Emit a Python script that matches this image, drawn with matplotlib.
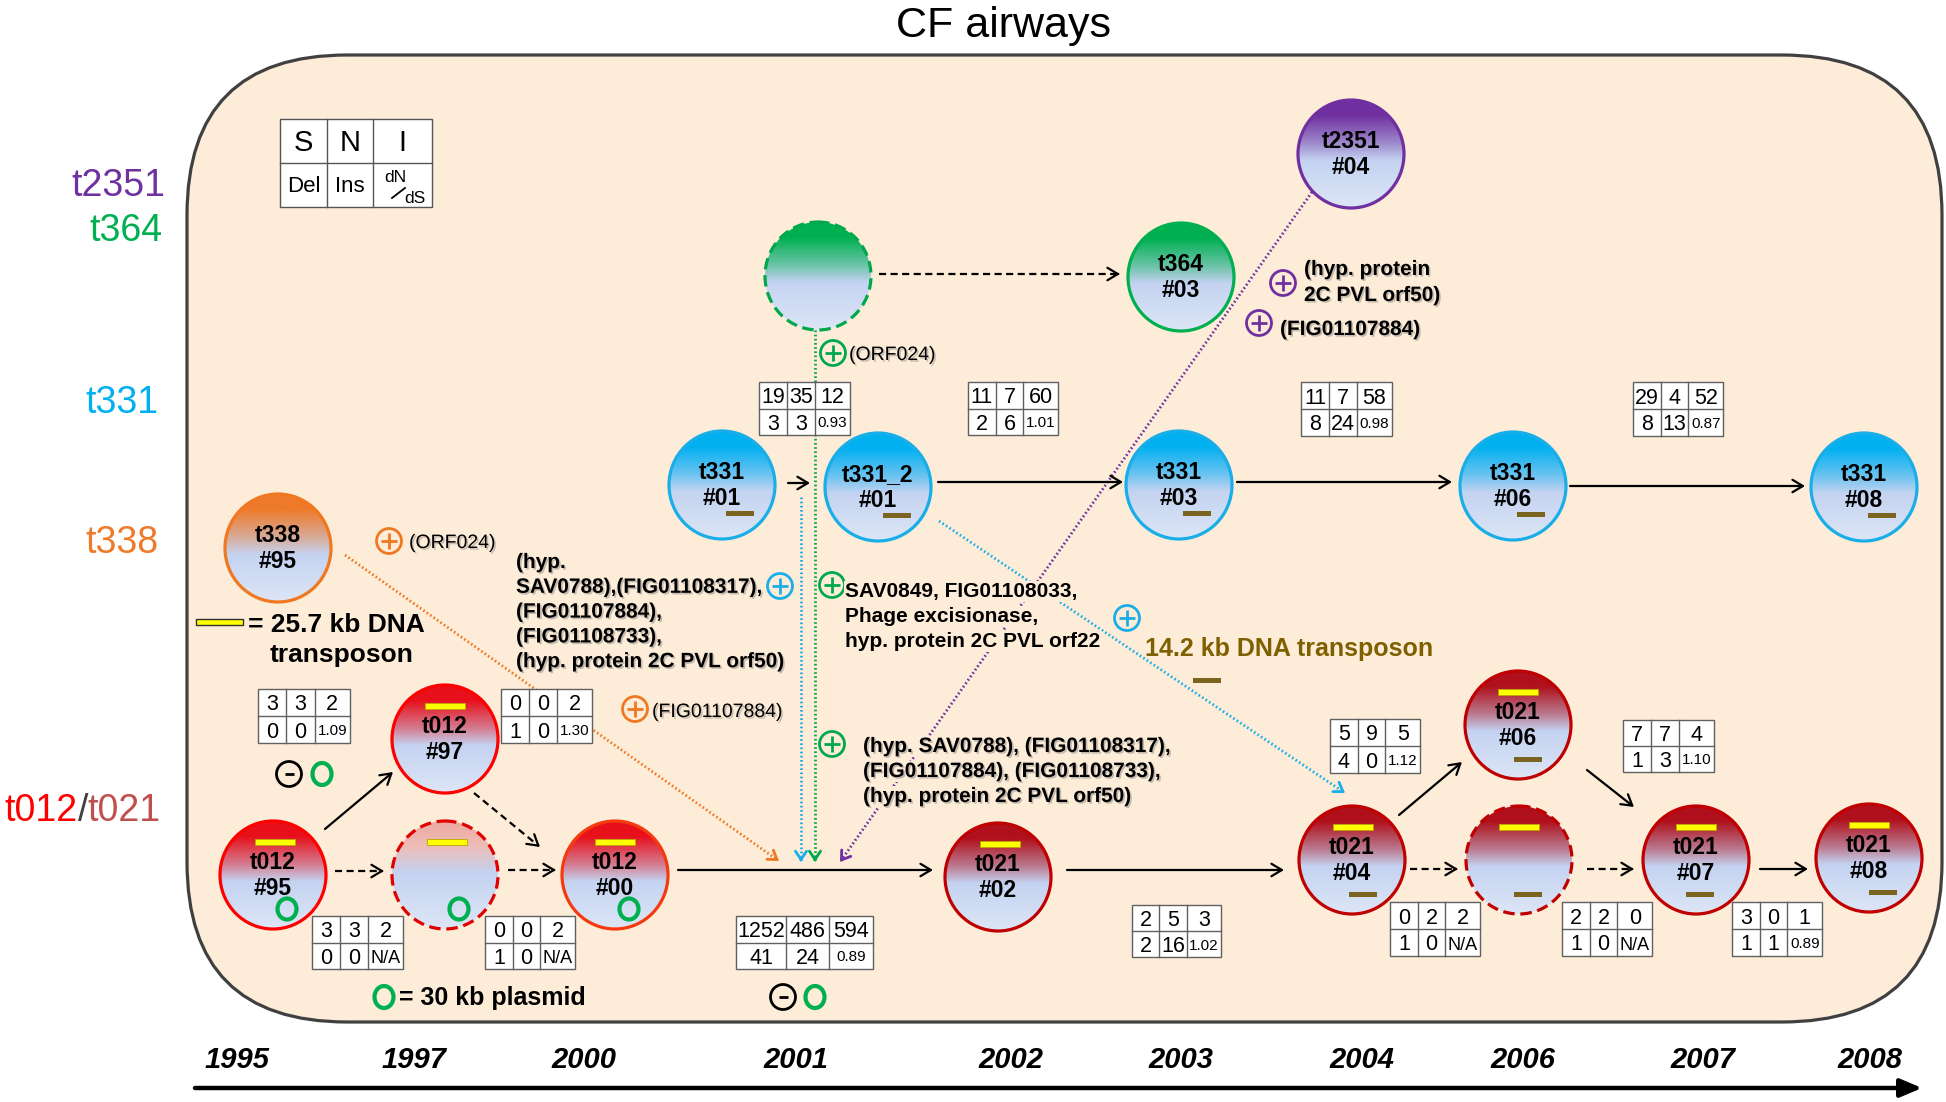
import numpy as np
import matplotlib
matplotlib.use("Agg")
import matplotlib.pyplot as plt
from matplotlib.patches import Ellipse, Circle, FancyBboxPatch, Rectangle
import matplotlib.patheffects as pe
from matplotlib.colors import to_rgb
from matplotlib import font_manager

plt.rcParams['font.family'] = ['Liberation Sans', 'DejaVu Sans']
_names = {f.name for f in font_manager.fontManager.ttflist}
NARROW = 'Liberation Sans Narrow' if 'Liberation Sans Narrow' in _names else 'Liberation Sans'
NUM_SIZE = 16.5 if NARROW != 'Liberation Sans' else 15.5

# ---------------- data ----------------
title = "CF airways"
strain_labels = ["t2351", "t364", "t331", "t338"]
years = ["1995", "1997", "2000", "2001", "2002", "2003", "2004", "2006", "2007", "2008"]

node_line1 = ["t2351", "t364", "", "t331", "t331_2", "t331", "t331", "t331", "t338",
              "t012", "t012", "", "t012", "t021", "t021", "t021", "", "t021", "t021"]
node_line2 = ["#04", "#03", "", "#01", "#01", "#03", "#06", "#08", "#95",
              "#97", "#95", "", "#00", "#02", "#04", "#06", "", "#07", "#08"]

table_top = [[19, 35, 12], [11, 7, 60], [11, 7, 58], [29, 4, 52], [3, 3, 2], [0, 0, 2],
             [3, 3, 2], [0, 0, 2], [1252, 486, 594], [2, 5, 3], [5, 9, 5], [0, 2, 2],
             [2, 2, 0], [3, 0, 1], [7, 7, 4]]
table_bottom = [[3, 3, "0.93"], [2, 6, "1.01"], [8, 24, "0.98"], [8, 13, "0.87"],
                [0, 0, "1.09"], [1, 0, "1.30"], [0, 0, "N/A"], [1, 0, "N/A"],
                [41, 24, "0.89"], [2, 16, "1.02"], [4, 0, "1.12"], [1, 0, "N/A"],
                [1, 0, "N/A"], [1, 1, "0.89"], [1, 3, "1.10"]]

legend_top = ["S", "N", "I"]
legend_bottom = ["Del", "Ins"]

ann_blue = ["(hyp.", "SAV0788),(FIG01108317),", "(FIG01107884),", "(FIG01108733),",
            "(hyp. protein 2C PVL orf50)"]
ann_green1 = ["SAV0849, FIG01108033,", "Phage excisionase,", "hyp. protein 2C PVL orf22"]
ann_green2 = ["(hyp. SAV0788), (FIG01108317),", "(FIG01107884), (FIG01108733),",
              "(hyp. protein 2C PVL orf50)"]
ann_purple1 = ["(hyp. protein", "2C PVL orf50)"]
ann_purple2 = "(FIG01107884)"
ann_orf = "(ORF024)"
ann_orange2 = "(FIG01107884)"
legend_transposon = ["= 25.7 kb DNA", "transposon"]
legend_plasmid = "= 30 kb plasmid"
legend_transposon2 = "14.2 kb DNA transposon"

# ---------------- styles ----------------
BG = '#FDECD8'
PURPLE = '#7030A0'
GREEN = '#00B050'
CYAN = '#00B0F0'
ORANGE = '#EE7A2A'
RED = '#FF0000'
DRED = '#C00000'
OLIVE = '#7F6000'
BROWN = '#7A6420'

fig = plt.figure(figsize=(19.46, 11.02), dpi=100)
ax = fig.add_axes([0, 0, 1, 1])
ax.set_axis_off()

ax.add_patch(FancyBboxPatch((187, 55), 1942 - 187, 1022 - 55,
                            boxstyle='round,pad=0,rounding_size=160',
                            fc=BG, ec='#404040', lw=2.3, zorder=0))

ax.text(1003, 37, title, fontsize=31, ha='center', va='baseline')

shadow = [pe.withSimplePatchShadow(offset=(1.2, -1.2), shadow_rgbFace='#808080', alpha=0.45)]


def txt(x, y, s, size, weight='normal', color='k', ha='left', style='normal',
        shad=False, bg=False, z=6, family=None):
    kw = {}
    if shad:
        kw['path_effects'] = shadow
    if bg:
        kw['bbox'] = dict(fc=BG, ec='none', pad=1.0)
    if family:
        kw['family'] = family
    return ax.text(x, y, s, fontsize=size, fontweight=weight, color=color, ha=ha,
                   va='baseline', style=style, zorder=z, **kw)


def lines(x, y0, pitch, texts, size, **kw):
    for i, s in enumerate(texts):
        txt(x, y0 + i * pitch, s, size, **kw)


lab_base = [196, 241, 413, 553]
lab_col = [PURPLE, GREEN, CYAN, ORANGE]
lab_right = [165, 163, 158, 159]
for s, b, c, r in zip(strain_labels, lab_base, lab_col, lab_right):
    txt(r, b, s, 27, color=c, ha='right')
renderer = fig.canvas.get_renderer()
ax.set_xlim(0, 1946)
ax.set_ylim(1102, 0)
t_a = txt(161, 821, "t021", 27, color='#C0504D', ha='right')
x_a = t_a.get_window_extent(renderer=renderer).x0
t_b = txt(x_a, 821, "/", 27, color='#404040', ha='right')
x_b = t_b.get_window_extent(renderer=renderer).x0
txt(x_b, 821, "t012", 27, color=RED, ha='right')

# legend table
lx = [280, 327, 373, 432]
ly = [119, 163, 207]
ax.add_patch(Rectangle((lx[0], ly[0]), lx[3] - lx[0], ly[2] - ly[0], fc='white', ec='#555555', lw=1.0, zorder=4))
for xv in lx[1:3]:
    ax.plot([xv, xv], [ly[0], ly[2]], color='#555555', lw=1.0, zorder=4)
ax.plot([lx[0], lx[3]], [ly[1], ly[1]], color='#555555', lw=1.0, zorder=4)
for i, s in enumerate(legend_top):
    txt((lx[i] + lx[i + 1]) / 2, 151, s, 21, ha='center')
for i, s in enumerate(legend_bottom):
    txt((lx[i] + lx[i + 1]) / 2, 192, s, 16, ha='center')
txt(384, 182, "dN", 12.5)
ax.plot([392, 405], [198, 188], color='k', lw=1.3, zorder=6)
txt(404, 203, "dS", 12.5)


def arrow(x0, y0, x1, y1, ls='-', color='k', lw=1.6, hl=0.75, hw=0.45, z=2):
    if ls == '-':
        ax.annotate('', xy=(x1, y1), xytext=(x0, y0), zorder=z,
                    arrowprops=dict(arrowstyle=f'->,head_length={hl},head_width={hw}',
                                    color=color, lw=lw, shrinkA=0, shrinkB=0))
    else:
        d = np.hypot(x1 - x0, y1 - y0)
        ux, uy = (x1 - x0) / d, (y1 - y0) / d
        ax.plot([x0, x1 - 2 * ux], [y0, y1 - 2 * uy], color=color, lw=lw, ls=ls, zorder=z)
        ax.annotate('', xy=(x1, y1), xytext=(x1 - 3 * ux, y1 - 3 * uy), zorder=z,
                    arrowprops=dict(arrowstyle=f'->,head_length={hl},head_width={hw}',
                                    color=color, lw=lw, shrinkA=0, shrinkB=0))


DASH = (0, (3.2, 2.0))
DOT = (0, (0.6, 0.9))

arrow(325, 829, 393, 772)
arrow(474, 793, 540, 847, ls=DASH)
arrow(335, 871, 384, 871, ls=DASH)
arrow(508, 870, 556, 870, ls=DASH)
arrow(678, 870, 933, 870)
arrow(1067, 870, 1284, 870)
arrow(1399, 815, 1462, 762)
arrow(1410, 869, 1458, 869, ls=DASH)
arrow(1587, 869, 1634, 869, ls=DASH)
arrow(1587, 770, 1634, 807)
arrow(1760, 869, 1808, 869)
arrow(788, 483, 810, 483)
arrow(938, 482, 1123, 482)
arrow(1237, 482, 1452, 482)
arrow(1570, 486, 1805, 486)
arrow(879, 274, 1120, 274, ls=DASH)

arrow(345, 555, 779, 861, ls=DOT, color='#F07820', lw=2.0, hl=0.6, hw=0.4, z=1)
arrow(801, 497, 801, 862, ls=DOT, color='#1AAEE8', lw=2.0, hl=0.6, hw=0.4, z=1)
arrow(815, 330, 815, 862, ls=DOT, color='#00A84C', lw=2.0, hl=0.6, hw=0.4, z=1)
arrow(939, 521, 1345, 793, ls=DOT, color='#1AAEE8', lw=2.0, hl=0.6, hw=0.4, z=1)
arrow(1312, 192, 840, 862, ls=DOT, color=PURPLE, lw=2.0, hl=0.6, hw=0.4, z=1)

ax.annotate('', xy=(1922, 1088), xytext=(195, 1088), zorder=2,
            arrowprops=dict(arrowstyle='-|>,head_length=1.3,head_width=0.55',
                            color='k', lw=3.2, shrinkA=0, shrinkB=0))
year_x = [237, 414, 584, 796, 1011, 1181, 1362, 1523, 1703, 1870]
for s, x in zip(years, year_x):
    txt(x, 1068, s, 21, weight='bold', style='italic', ha='center')

L1 = np.array(to_rgb('#C4D3F1'))
L2 = np.array(to_rgb('#DDE6F6'))


def grad(top, faded=False):
    t = np.linspace(0, 1, 256)
    c = np.array(to_rgb(top))
    if faded:
        keys = [0, 0.22, 0.48, 1.0]
        cols = [c, 0.5 * c + 0.5 * np.array(to_rgb('#F4D0CC')), L1, L2]
    else:
        keys = [0, 0.14, 0.40, 0.56, 1.0]
        cols = [c, c, 0.45 * c + 0.55 * L1, L1, L2]
    img = np.zeros((256, 1, 3))
    for ch in range(3):
        img[:, 0, ch] = np.interp(t, keys, [k[ch] for k in cols])
    return img


node_xy = [(1351, 154), (1181, 277), (818, 276), (722, 485), (878, 487), (1179, 485),
           (1513, 486), (1864, 487), (278, 548), (445, 739), (273, 875), (445, 875),
           (615, 875), (998, 877), (1352, 860), (1518, 725), (1519, 860), (1696, 860),
           (1869, 858)]
node_top = [PURPLE, GREEN, GREEN, CYAN, CYAN, CYAN, CYAN, CYAN, ORANGE,
            '#E8101A', '#E8101A', '#EBA8A0', '#E8101A', '#B0101C', '#B0101C', '#B0101C',
            '#B0101C', '#B0101C', '#B0101C']
node_edge = [PURPLE, '#00B050', '#00A84C', '#1AAEE8', '#1AAEE8', '#1AAEE8', '#1AAEE8', '#1AAEE8',
             '#F07820', RED, RED, '#E00000', '#F53A10', DRED, DRED, DRED, DRED, DRED, DRED]
node_dashed = [False, False, True, False, False, False, False, False, False,
               False, False, True, False, False, False, False, True, False, False]
node_faded = [i == 11 for i in range(19)]
node_yellow = [None] * 9 + [0, 2, 2, 0, 2, 1, 0, 0, 0, 0]
node_brown = [None, None, None, 18, 19, 18, 18, 18, None, None, None, None, None, None,
              11, 10, 9, 4, 14]
node_ring = [i in (10, 11, 12) for i in range(19)]

RX, RY = 53, 54
for i, (cx, cy) in enumerate(node_xy):
    clip = Ellipse((cx, cy), 2 * RX, 2 * RY, transform=ax.transData)
    im = ax.imshow(grad(node_top[i], node_faded[i]), extent=(cx - RX, cx + RX, cy + RY, cy - RY),
                   origin='upper', aspect='auto', interpolation='bilinear', zorder=3)
    im.set_clip_path(clip)
    ax.add_patch(Ellipse((cx, cy), 2 * RX, 2 * RY, fc='none', ec=node_edge[i], lw=2.3,
                         ls=(0, (3.6, 1.8)) if node_dashed[i] else '-', zorder=4))
    if node_line1[i]:
        txt(cx, cy - 6, node_line1[i], 16.5, weight='bold', ha='center', z=5)
        txt(cx, cy + 20, node_line2[i], 16.5, weight='bold', ha='center', z=5)
    if node_yellow[i] is not None:
        ax.add_patch(Rectangle((cx + node_yellow[i] - 20, cy - 36), 40, 6, fc='#FFFF00',
                               ec='#B8A800', lw=0.6, zorder=5))
    if node_brown[i] is not None:
        yb = cy + 26 if i < 8 else cy + 32
        ax.add_patch(Rectangle((cx + node_brown[i] - 14, yb), 28, 5, fc=BROWN, ec='none', zorder=5))
    if node_ring[i]:
        ax.add_patch(Ellipse((cx + 14, cy + 34), 19, 21, fc='none', ec=GREEN, lw=3.0, zorder=5))

table_pos = [(759, 382, 91, 53), (968, 382, 90, 53), (1301, 382, 91, 54), (1633, 382, 90, 54),
             (258, 689, 92, 54), (501, 689, 91, 54), (312, 916, 91, 53), (485, 916, 90, 53),
             (736, 916, 137, 53), (1132, 905, 89, 52), (1330, 719, 90, 54), (1390, 902, 90, 54),
             (1562, 902, 90, 54), (1732, 902, 90, 54), (1623, 720, 91, 52)]
std_frac = [28 / 91, 28 / 91, 35 / 91]
big_frac = [50 / 137, 43 / 137, 44 / 137]

for k, (x0, y0, w, h) in enumerate(table_pos):
    fr = big_frac if table_top[k][0] > 999 else std_frac
    xs = [x0]
    for f in fr:
        xs.append(xs[-1] + f * w)
    ax.add_patch(Rectangle((x0, y0), w, h, fc='white', ec='#606060', lw=1.0, zorder=4))
    for xv in xs[1:3]:
        ax.plot([xv, xv], [y0, y0 + h], color='#606060', lw=1.0, zorder=4)
    ax.plot([x0, x0 + w], [y0 + h / 2, y0 + h / 2], color='#606060', lw=1.0, zorder=4)
    for j in range(3):
        xc = (xs[j] + xs[j + 1]) / 2
        txt(xc, y0 + h / 4 + 8, str(table_top[k][j]), NUM_SIZE, ha='center', z=5, family=NARROW)
        v = table_bottom[k][j]
        if j < 2:
            txt(xc, y0 + 3 * h / 4 + 8, str(v), NUM_SIZE, ha='center', z=5, family=NARROW)
        elif v == "N/A":
            txt(xc, y0 + 3 * h / 4 + 7, v, NUM_SIZE - 2.5, ha='center', z=5, family=NARROW)
        else:
            txt(xc, y0 + 3 * h / 4 + 5.5, v, NUM_SIZE - 4.5, ha='center', z=5, family=NARROW)


def sym(x, y, color, minus=False):
    ax.add_patch(Circle((x, y), 12.5, fc='none', ec=color, lw=2.0, zorder=6))
    if minus:
        ax.plot([x - 4.5, x + 4.5], [y, y], color=color, lw=2.0, zorder=6, solid_capstyle='butt')
    else:
        ax.plot([x - 8, x + 8], [y, y], color=color, lw=2.0, zorder=6, solid_capstyle='butt')
        ax.plot([x, x], [y - 8, y + 8], color=color, lw=2.0, zorder=6, solid_capstyle='butt')


def ring(x, y):
    ax.add_patch(Ellipse((x, y), 19, 22, fc='none', ec=GREEN, lw=3.0, zorder=6))


sym(389, 541, '#F07820')
txt(409, 548, ann_orf, 14, shad=True)
sym(833, 353, '#00A84C')
txt(849, 360, ann_orf, 14, shad=True)
sym(635, 709, '#F07820')
txt(652, 717, ann_orange2, 14, shad=True)

lines(516, 568, 24.8, ann_blue, 15, weight='bold', shad=True, bg=True)
sym(780, 586, '#1AAEE8')
sym(832, 585, '#00A84C')
lines(845, 597, 25, ann_green1, 15, weight='bold', bg=True)
sym(832, 744, '#00A84C')
lines(863, 752, 25, ann_green2, 15, weight='bold', shad=True, bg=True)
sym(1127, 618, '#1AAEE8')
sym(1283, 283, PURPLE)
lines(1304, 275, 26, ann_purple1, 15, weight='bold', shad=True)
sym(1259, 323, PURPLE)
txt(1280, 335, ann_purple2, 15, weight='bold', shad=True)

txt(1145, 656, legend_transposon2, 18, weight='bold', color=OLIVE)
ax.add_patch(Rectangle((1193, 678), 28, 5, fc=BROWN, ec='none', zorder=5))

ax.add_patch(Rectangle((196, 619), 47, 6, fc='#FFFF00', ec='#303030', lw=1.0, zorder=5))
txt(248, 632, legend_transposon[0], 19, weight='bold')
txt(270, 662, legend_transposon[1], 19, weight='bold')

sym(289, 774, 'k', minus=True)
ring(322, 774)
ring(384, 997)
txt(399, 1005, legend_plasmid, 18, weight='bold')
sym(783, 997, 'k', minus=True)
ring(815, 997)

ax.set_xlim(0, 1946)
ax.set_ylim(1102, 0)
fig.savefig("out.png", dpi=100, facecolor='white')
